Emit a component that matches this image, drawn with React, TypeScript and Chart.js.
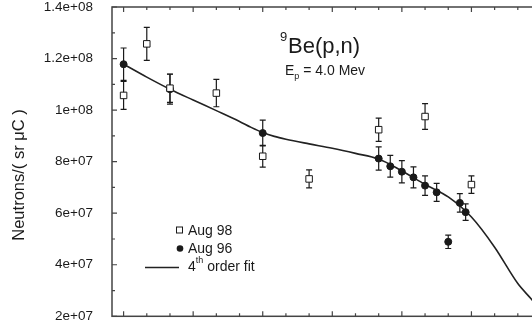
import React, { useEffect, useRef } from "react";
import { Chart, registerables } from "chart.js";

Chart.register(...registerables);

// ---- data (angle in degrees, neutron yield) ----
const aug98Angles = [0, 10, 20, 40, 60, 80, 110, 130, 150];
const aug98Values = [1.057e8, 1.257e8, 1.085e8, 1.066e8, 8.21e7, 7.33e7, 9.24e7, 9.75e7, 7.11e7];
const aug98Errors = [5.4e6, 6.4e6, 5.5e6, 5.3e6, 4.2e6, 3.5e6, 4.5e6, 5.0e6, 3.4e6];

const aug96Angles = [0, 20, 60, 110, 115, 120, 125, 130, 135, 140, 145, 147.5];
const aug96Values = [1.178e8, 1.081e8, 9.11e7, 8.12e7, 7.82e7, 7.61e7, 7.39e7, 7.07e7, 6.81e7, 4.89e7, 6.4e7, 6.04e7];
const aug96Errors = [6.3e6, 5.8e6, 5.0e6, 4.5e6, 4.2e6, 4.3e6, 4.1e6, 3.75e6, 3.5e6, 2.6e6, 3.6e6, 3.2e6];

const fitAngles = [0, 10, 20, 30, 40, 50, 55, 60, 65, 70, 80, 90, 100, 110, 120, 130, 140, 150, 160, 170, 176, 180];
const fitValues = [1.178e8, 1.128e8, 1.081e8, 1.039e8, 9.98e7, 9.56e7, 9.33e7, 9.13e7, 8.98e7, 8.87e7, 8.69e7, 8.52e7, 8.32e7, 8.1e7, 7.64e7, 7.12e7, 6.63e7, 5.85e7, 4.68e7, 3.27e7, 2.65e7, 2.2e7];

const yTickValues = [2e7, 4e7, 6e7, 8e7, 1e8, 1.2e8, 1.4e8];
const yTickLabels = ["2e+07", "4e+07", "6e+07", "8e+07", "1e+08", "1.2e+08", "1.4e+08"];
const xMajorTicks = [0, 30, 60, 90, 120, 150, 180];
const xMinorTicks = [10, 20, 40, 50, 70, 80, 100, 110, 130, 140, 160, 170];
const yMinorTicks = [3e7, 5e7, 7e7, 9e7, 1.1e8, 1.3e8];

const FONT = '"Liberation Sans", Arial, Helvetica, sans-serif';
const INK = "#1a1a1a";
const FRAME = "#444";

export default function App() {
  const ref = useRef<HTMLCanvasElement>(null);

  useEffect(() => {
    const canvas = ref.current;
    if (!canvas) return;

    const errorBars = {
      id: "errorBars",
      beforeDatasetsDraw(chart: any) {
        const ctx = chart.ctx;
        const xs = chart.scales.x;
        const ys = chart.scales.y;
        const sets: [number[], number[], number[]][] = [
          [aug98Angles, aug98Values, aug98Errors],
          [aug96Angles, aug96Values, aug96Errors],
        ];
        ctx.save();
        ctx.strokeStyle = INK;
        ctx.lineWidth = 1.2;
        for (const [a, v, e] of sets) {
          for (let i = 0; i < a.length; i++) {
            const px = xs.getPixelForValue(a[i]);
            const top = ys.getPixelForValue(v[i] + e[i]);
            const bot = ys.getPixelForValue(v[i] - e[i]);
            ctx.beginPath();
            ctx.moveTo(px, top);
            ctx.lineTo(px, bot);
            ctx.moveTo(px - 3, top);
            ctx.lineTo(px + 3, top);
            ctx.moveTo(px - 3, bot);
            ctx.lineTo(px + 3, bot);
            ctx.stroke();
          }
        }
        ctx.restore();
      },
    };

    const decorations = {
      id: "decorations",
      afterDraw(chart: any) {
        const ctx = chart.ctx;
        const ca = chart.chartArea;
        const xs = chart.scales.x;
        const ys = chart.scales.y;
        ctx.save();
        // frame
        ctx.strokeStyle = FRAME;
        ctx.lineWidth = 1.5;
        ctx.strokeRect(ca.left, ca.top, ca.right - ca.left, ca.bottom - ca.top);
        // ticks
        ctx.lineWidth = 1.2;
        ctx.beginPath();
        const xt = (vals: number[], len: number) => {
          for (const v of vals) {
            const p = xs.getPixelForValue(v);
            ctx.moveTo(p, ca.bottom);
            ctx.lineTo(p, ca.bottom - len);
            ctx.moveTo(p, ca.top);
            ctx.lineTo(p, ca.top + len);
          }
        };
        const yt = (vals: number[], len: number) => {
          for (const v of vals) {
            const p = ys.getPixelForValue(v);
            ctx.moveTo(ca.left, p);
            ctx.lineTo(ca.left + len, p);
            ctx.moveTo(ca.right, p);
            ctx.lineTo(ca.right - len, p);
          }
        };
        xt(xMajorTicks, 5);
        xt(xMinorTicks, 3);
        yt(yTickValues, 5);
        yt(yMinorTicks, 3);
        ctx.stroke();

        ctx.fillStyle = INK;
        ctx.textBaseline = "alphabetic";
        ctx.textAlign = "left";
        // title
        ctx.font = `13px ${FONT}`;
        ctx.fillText("9", 280, 41);
        ctx.font = `22px ${FONT}`;
        ctx.fillText("Be(p,n)", 288, 53);
        // subtitle
        ctx.font = `14px ${FONT}`;
        ctx.fillText("E", 285, 75);
        const ew = ctx.measureText("E").width;
        ctx.font = `9px ${FONT}`;
        ctx.fillText("p", 285 + ew, 79);
        const pw = ctx.measureText("p").width;
        ctx.font = `14px ${FONT}`;
        ctx.fillText(" = 4.0 Mev", 285 + ew + pw, 75);

        // y axis title
        ctx.save();
        ctx.translate(19, 175);
        ctx.rotate(-Math.PI / 2);
        ctx.textAlign = "center";
        ctx.textBaseline = "middle";
        ctx.font = `16.5px ${FONT}`;
        ctx.fillText("Neutrons/( sr \u03bcC )", 0, 0);
        ctx.restore();

        // legend
        const lx = 188;
        const ds = chart.data.datasets;
        ctx.font = `14px ${FONT}`;
        ctx.textBaseline = "middle";
        // square
        ctx.lineWidth = 1;
        ctx.strokeStyle = INK;
        ctx.fillStyle = "#fff";
        ctx.fillRect(176.5, 227, 6, 6);
        ctx.strokeRect(176.5, 227, 6, 6);
        ctx.fillStyle = INK;
        ctx.fillText(ds[0].label, lx, 231);
        // circle
        ctx.beginPath();
        ctx.arc(180, 248.5, 3.3, 0, Math.PI * 2);
        ctx.fill();
        ctx.fillText(ds[1].label, lx, 249);
        // line
        ctx.lineWidth = 1.6;
        ctx.strokeStyle = "#222";
        ctx.beginPath();
        ctx.moveTo(145, 267.5);
        ctx.lineTo(179, 267.5);
        ctx.stroke();
        ctx.fillText("4", lx, 267);
        const fw = ctx.measureText("4").width;
        ctx.font = `9px ${FONT}`;
        ctx.fillText("th", lx + fw, 261);
        const tw = ctx.measureText("th").width;
        ctx.font = `14px ${FONT}`;
        ctx.fillText(" order fit", lx + fw + tw, 267);
        ctx.restore();
      },
    };

    const chart = new Chart(canvas, {
      type: "scatter",
      data: {
        datasets: [
          {
            label: "Aug 98",
            data: aug98Angles.map((a, i) => ({ x: a, y: aug98Values[i] })),
            pointStyle: "rect",
            pointRadius: 4.6,
            backgroundColor: "#fff",
            borderColor: INK,
            borderWidth: 1,
            showLine: false,
          },
          {
            label: "Aug 96",
            data: aug96Angles.map((a, i) => ({ x: a, y: aug96Values[i] })),
            pointStyle: "circle",
            pointRadius: 3.5,
            backgroundColor: INK,
            borderColor: INK,
            borderWidth: 1,
            showLine: false,
          },
          {
            label: "4th order fit",
            data: fitAngles.map((a, i) => ({ x: a, y: fitValues[i] })),
            showLine: true,
            pointRadius: 0,
            borderColor: "#222",
            borderWidth: 1.6,
            cubicInterpolationMode: "monotone",
            fill: false,
          } as any,
        ],
      },
      options: {
        responsive: false,
        animation: false,
        events: [],
        layout: { padding: { left: 0, top: 7, right: 19, bottom: 23.7 } },
        plugins: { legend: { display: false }, tooltip: { enabled: false } },
        scales: {
          x: { type: "linear", display: false, min: -5, max: 180 },
          y: {
            type: "linear",
            min: 2e7,
            max: 1.4e8,
            afterFit: (scale: any) => {
              scale.width = 112;
              scale.paddingTop = 0;
              scale.paddingBottom = 0;
            },
            afterBuildTicks: (scale: any) => {
              scale.ticks = yTickValues.map((v) => ({ value: v }));
            },
            grid: { display: false },
            border: { display: false },
            ticks: {
              padding: 11,
              color: INK,
              font: { family: FONT, size: 13.5 },
              callback: (value: any) => {
                const i = yTickValues.findIndex((t) => Math.abs(t - value) < 1);
                return i >= 0 ? yTickLabels[i] : "";
              },
            },
          },
        },
      },
      plugins: [errorBars, decorations],
    });

    return () => chart.destroy();
  }, []);

  return (
    <div
      style={{
        position: "fixed",
        left: 0,
        top: 0,
        width: 532,
        height: 324,
        overflow: "hidden",
        background: "#fff",
      }}
    >
      <canvas ref={ref} width={560} height={340} style={{ display: "block", width: 560, height: 340 }} />
    </div>
  );
}
